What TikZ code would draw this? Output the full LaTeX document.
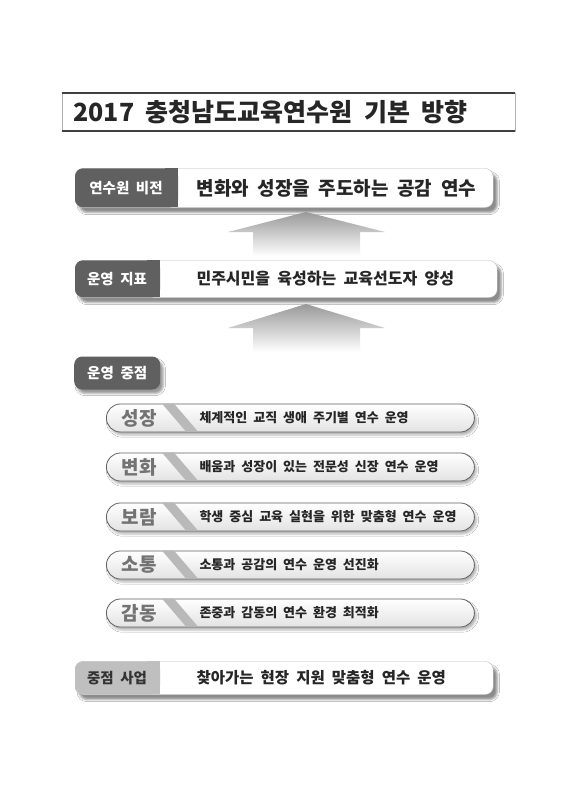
\documentclass[tikz,border=0pt]{standalone}
\usepackage{fontspec}
\setmainfont{Noto Sans CJK KR}[WordSpace=2]
\usetikzlibrary{shadows.blur}

\begin{document}
\begin{tikzpicture}[x=1pt,y=-1pt,
    bar/.style={draw=gray!55,fill=white,rounded corners=8pt,anchor=west,inner sep=0pt,
      blur shadow={shadow xshift=4pt,shadow yshift=-5pt,shadow opacity=45}},
    tagtxt/.style={text=white,font=\bfseries\fontsize{14.5}{14.5}\selectfont},
    head/.style={text=black!85,font=\bfseries\fontsize{19}{19}\selectfont},
    pill/.style={draw=gray!75!black,line width=0.8pt,rounded corners=14pt,minimum height=28pt,
      minimum width=368pt,anchor=west,inner sep=0pt,top color=white,bottom color=gray!22,
      blur shadow={shadow xshift=2pt,shadow yshift=-3pt,shadow opacity=30}},
    key/.style={text=black!55,font=\bfseries\fontsize{19}{19}\selectfont},
    item/.style={anchor=west,text=black!85,font=\bfseries\fontsize{13}{13}\selectfont},
    stripe/.style={fill=gray!55},
    uparrow/.style={top color=gray!80,bottom color=white}]
    \useasboundingbox (0,0) rectangle (565,800);
    \fill[white] (0,0) rectangle (565,800);

    % title
    \node[draw=gray!60,minimum width=453pt,minimum height=38pt,anchor=west,inner sep=0pt] (title) at (62,112) {};
    \draw[black!75,line width=2pt] (title.north west) -- (title.north east);
    \draw[black!75,line width=2pt] (title.south west) -- (title.south east);
    \node[anchor=west,text=black!85,font=\bfseries\fontsize{25}{25}\selectfont] (titletxt) at (70,112) {2017 충청남도교육연수원 기본 방향};

    % vision
    \node[bar,minimum width=418pt,minimum height=39pt] (vision) at (75,188) {};
    \fill[gray!75!black,rounded corners=8pt] (vision.north west) rectangle ++(103,39);
    \fill[gray!75!black] ([xshift=90pt]vision.north west) rectangle ++(13,39);
    \node[tagtxt] (visiontag) at ([xshift=51pt]vision.west) {연수원 비전};
    \node[head,anchor=west] (visiontxt) at ([xshift=118pt]vision.west) {변화와 성장을 주도하는 공감 연수};

    \shade[uparrow] (306,212) -- (385,232) -- (360,232) -- (360,256) -- (253,256) -- (253,232) -- (228,232) -- cycle;

    % goal
    \node[bar,minimum width=422pt,minimum height=37pt] (goal) at (75,279) {};
    \fill[gray!75!black,rounded corners=8pt] (goal.north west) rectangle ++(85,37);
    \fill[gray!75!black] ([xshift=72pt]goal.north west) rectangle ++(13,37);
    \node[tagtxt] (goaltag) at ([xshift=42pt]goal.west) {운영 지표};
    \node[head,anchor=west,font=\bfseries\fontsize{16}{16}\selectfont] (goaltxt) at ([xshift=118pt]goal.west) {민주시민을 육성하는 교육선도자 양성};

    \shade[uparrow] (306,304) -- (385,328) -- (360,328) -- (360,352) -- (253,352) -- (253,328) -- (228,328) -- cycle;

    % focus
    \node[fill=gray!75!black,rounded corners=8pt,minimum width=86pt,minimum height=33pt,anchor=west,inner sep=0pt,
      blur shadow={shadow xshift=3pt,shadow yshift=-4pt,shadow opacity=40}] (focus) at (74,373) {};
    \node[tagtxt] (focustag) at (focus.center) {운영 중점};

    \node[pill] (p1) at (106,418) {};
    \fill[stripe] ([xshift=56pt]p1.north west) -- ++(12,0) -- ++(24,28) -- ++(-12,0) -- cycle;
    \node[key] (k1) at ([xshift=33pt]p1.west) {성장};
    \node[item] (t1) at ([xshift=90pt]p1.west) {체계적인 교직 생애 주기별 연수 운영};

    \node[pill] (p2) at (106,467) {};
    \fill[stripe] ([xshift=56pt]p2.north west) -- ++(12,0) -- ++(24,28) -- ++(-12,0) -- cycle;
    \node[key] (k2) at ([xshift=33pt]p2.west) {변화};
    \node[item] (t2) at ([xshift=90pt]p2.west) {배움과 성장이 있는 전문성 신장 연수 운영};

    \node[pill] (p3) at (106,517) {};
    \fill[stripe] ([xshift=56pt]p3.north west) -- ++(12,0) -- ++(24,28) -- ++(-12,0) -- cycle;
    \node[key] (k3) at ([xshift=33pt]p3.west) {보람};
    \node[item] (t3) at ([xshift=90pt]p3.west) {학생 중심 교육 실현을 위한 맞춤형 연수 운영};

    \node[pill] (p4) at (106,565) {};
    \fill[stripe] ([xshift=56pt]p4.north west) -- ++(12,0) -- ++(24,28) -- ++(-12,0) -- cycle;
    \node[key] (k4) at ([xshift=33pt]p4.west) {소통};
    \node[item] (t4) at ([xshift=90pt]p4.west) {소통과 공감의 연수 운영 선진화};

    \node[pill] (p5) at (106,613) {};
    \fill[stripe] ([xshift=56pt]p5.north west) -- ++(12,0) -- ++(24,28) -- ++(-12,0) -- cycle;
    \node[key] (k5) at ([xshift=33pt]p5.west) {감동};
    \node[item] (t5) at ([xshift=90pt]p5.west) {존중과 감동의 연수 환경 최적화};

    % project
    \node[bar,minimum width=418pt,minimum height=33pt] (project) at (75,678) {};
    \fill[gray!50,rounded corners=8pt] (project.north west) rectangle ++(85,33);
    \fill[gray!50] ([xshift=72pt]project.north west) rectangle ++(13,33);
    \node[tagtxt,text=black!80] (projecttag) at ([xshift=42pt]project.west) {중점 사업};
    \node[head,anchor=west,font=\bfseries\fontsize{15.5}{15.5}\selectfont] (projecttxt) at ([xshift=118pt]project.west) {찾아가는 현장 지원 맞춤형 연수 운영};
\end{tikzpicture}
\end{document}
